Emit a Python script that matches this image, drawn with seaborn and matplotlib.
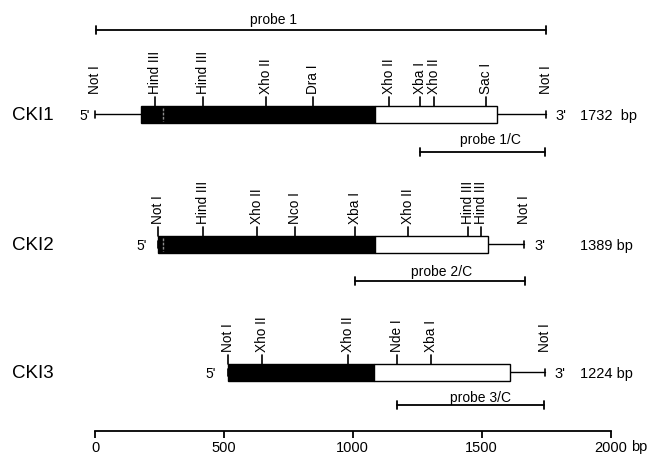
import numpy as np
import pandas as pd
import seaborn as sns
import matplotlib.pyplot as plt
from matplotlib.patches import Rectangle

sns.set_theme(style='white')
plt.rcParams['font.family'] = ['Liberation Sans', 'DejaVu Sans']
plt.rcParams['text.color'] = 'black'
plt.rcParams['xtick.color'] = 'black'

# Gene maps (positions in bp)
genes = ['CKI1', 'CKI2', 'CKI3']
total_bp = [1732, 1389, 1224]
seq_start = [0, 245, 517]
seq_end = [1748, 1663, 1744]
coding_start = [180, 245, 517]
coding_end = [1088, 1085, 1081]
utr_end = [1560, 1524, 1608]
start_marks = [262, 265, None]

cki1_sites = ['Not I', 'Hind III', 'Hind III', 'Xho II', 'Dra I', 'Xho II', 'Xba I', 'Xho II', 'Sac I', 'Not I']
cki1_pos = [0, 232, 420, 662, 846, 1140, 1260, 1314, 1518, 1748]
cki2_sites = ['Not I', 'Hind III', 'Xho II', 'Nco I', 'Xba I', 'Xho II', 'Hind III', 'Hind III', 'Not I']
cki2_pos = [245, 420, 627, 775, 1008, 1214, 1447, 1499, 1663]
cki3_sites = ['Not I', 'Xho II', 'Xho II', 'Nde I', 'Xba I', 'Not I']
cki3_pos = [517, 648, 982, 1173, 1305, 1744]

probe_names = ['probe 1', 'probe 1/C', 'probe 2/C', 'probe 3/C']
probe_start = [5, 1260, 1008, 1173]
probe_end = [1750, 1744, 1667, 1740]

scale_ticks = [0, 500, 1000, 1500, 2000]

# layout (figure pixel rows, top = 0)
row_y = [115, 245, 373]
half_h = 8.5
probe_y = [31, 153, 282, 406]
probe_label_y = [20, 140, 272, 398]
probe_label_x = [694, 1532, 1346, 1497]
five_prime_px = [90, 147, 216]
px_per_bp = 0.2578
x0_px = 95


def bp(px):
    return (px - x0_px) / px_per_bp


fig = plt.figure(figsize=(6.5, 4.56), dpi=100)
ax = fig.add_axes([0, 0, 1, 1])
ax.set_xlim(bp(0), bp(650))
ax.set_ylim(456, 0)

site_names = [cki1_sites, cki2_sites, cki3_sites]
site_pos = [cki1_pos, cki2_pos, cki3_pos]

for i, gene in enumerate(genes):
    y = row_y[i]
    top = y - half_h
    # backbone line with end caps
    ax.plot([seq_start[i], seq_end[i]], [y, y], color='black', lw=1.0, zorder=1)
    for xe in (seq_start[i], seq_end[i]):
        ax.plot([xe, xe], [y - 3.5, y + 3.5], color='black', lw=1.2, zorder=1)
    # coding region (black) and 3' UTR (white)
    ax.add_patch(Rectangle((coding_start[i], top), coding_end[i] - coding_start[i], 2 * half_h,
                           facecolor='black', edgecolor='black', lw=1, zorder=2))
    ax.add_patch(Rectangle((coding_end[i], top), utr_end[i] - coding_end[i], 2 * half_h,
                           facecolor='white', edgecolor='black', lw=1, zorder=2))
    if start_marks[i] is not None:
        ax.plot([start_marks[i], start_marks[i]], [top + 2, top + 2 * half_h - 2],
                color='#8c8c8c', lw=1.0, ls=(0, (2, 1)), zorder=3)
    # restriction sites
    for name, pos in zip(site_names[i], site_pos[i]):
        if coding_start[i] <= pos <= utr_end[i]:
            ax.plot([pos, pos], [top, top - 8.5], color='black', lw=1.2, zorder=3)
        ax.text(pos, top - 12.5, name, rotation=90, ha='center', va='bottom', fontsize=9.8)
    ax.text(bp(12), y + 1, gene, ha='left', va='center', fontsize=13.5)
    ax.text(bp(five_prime_px[i]), y + 1, "5'", ha='right', va='center', fontsize=10)
    ax.text(seq_end[i] + 40, y + 1, "3'", ha='left', va='center', fontsize=10.5)
    ax.text(bp(580), y + 1, f'{total_bp[i]}  bp' if i == 0 else f'{total_bp[i]} bp',
            ha='left', va='center', fontsize=10.5)

# probes
for name, s, e, y, ly, lx in zip(probe_names, probe_start, probe_end, probe_y, probe_label_y, probe_label_x):
    ax.plot([s, e], [y, y], color='black', lw=1.3)
    for xe in (s, e):
        ax.plot([xe, xe], [y - 4, y + 4], color='black', lw=1.3)
    ax.text(lx, ly, name, ha='center', va='center', fontsize=10)

# scale bar on the bottom spine
for side in ['top', 'left', 'right']:
    ax.spines[side].set_visible(False)
ax.spines['bottom'].set_position(('data', 432))
ax.spines['bottom'].set_bounds(scale_ticks[0], scale_ticks[-1])
ax.spines['bottom'].set_linewidth(1.3)
ax.spines['bottom'].set_color('black')
ax.set_xticks(scale_ticks)
ax.set_xticklabels([str(t) for t in scale_ticks], fontsize=10.5)
ax.tick_params(axis='x', direction='out', length=5, width=1.3, pad=1.5, colors='black', bottom=True)
ax.set_yticks([])
ax.text(bp(631), 447, 'bp', ha='left', va='center', fontsize=10.5)

fig.savefig('out.png', dpi=100)
